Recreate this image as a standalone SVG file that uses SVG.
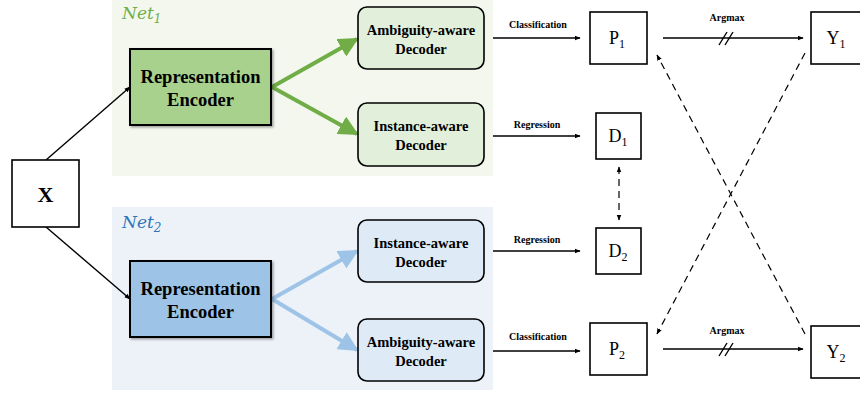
<svg xmlns="http://www.w3.org/2000/svg" width="860" height="394" viewBox="0 0 860 394" font-family="'Liberation Serif', 'Times New Roman', serif">
<style>
.bold{font-family:'Liberation Serif','Times New Roman',serif;font-weight:700;fill:#000}
.reg{font-family:'Liberation Serif','Times New Roman',serif;fill:#000}
.enc{stroke:#000;stroke-width:2}
.dec{stroke:#000;stroke-width:1.6}
.box{fill:#fff;stroke:#000;stroke-width:1.6}
.thin{stroke:#000;stroke-width:1.4;fill:none}
.dash{stroke:#000;stroke-width:1.2;fill:none;stroke-dasharray:7,5}
.lbl{font-family:'Liberation Serif','Times New Roman',serif;font-weight:700;font-size:10px;text-anchor:middle}
.net{font-family:'DejaVu Serif','Liberation Serif',serif;font-style:italic;font-size:17px}
</style>
<defs>
<marker id="ah" viewBox="0 0 10 10" refX="9" refY="5" markerWidth="6" markerHeight="6" orient="auto-start-reverse" markerUnits="userSpaceOnUse"><path d="M0,1 L10,5 L0,9 z" fill="#000"/></marker>
<marker id="ag" viewBox="0 0 10 10" refX="9" refY="5" markerWidth="5" markerHeight="5" orient="auto"><path d="M0,0 L10,5 L0,10 z" fill="#70ad47"/></marker>
<marker id="ab" viewBox="0 0 10 10" refX="9" refY="5" markerWidth="5" markerHeight="5" orient="auto"><path d="M0,0 L10,5 L0,10 z" fill="#9dc3e6"/></marker>
<filter id="sh" x="-10%" y="-10%" width="130%" height="130%"><feDropShadow dx="1.5" dy="1.5" stdDeviation="1" flood-opacity="0.35"/></filter>
</defs>

<g id="net1-bg">
<rect x="112" y="0" width="381" height="176" fill="#f3f7ee"/>
<text class="net" x="122" y="19" fill="#70ad47">Net<tspan font-size="12" dy="4">1</tspan></text>
</g>
<g id="net2-bg">
<rect x="112" y="207" width="381" height="183" fill="#edf2f9"/>
<text class="net" x="122" y="228" fill="#2e75b6">Net<tspan font-size="12" dy="4">2</tspan></text>
</g>

<g id="connectors">
<line class="thin" x1="46" y1="160" x2="130" y2="87" marker-end="url(#ah)"/>
<line class="thin" x1="46" y1="227" x2="130" y2="299" marker-end="url(#ah)"/>
<line x1="272" y1="87" x2="357" y2="39" stroke="#70ad47" stroke-width="4" marker-end="url(#ag)"/>
<line x1="272" y1="87" x2="357" y2="134" stroke="#70ad47" stroke-width="4" marker-end="url(#ag)"/>
<line x1="272" y1="299" x2="357" y2="251" stroke="#9dc3e6" stroke-width="4" marker-end="url(#ab)"/>
<line x1="272" y1="299" x2="357" y2="350" stroke="#9dc3e6" stroke-width="4" marker-end="url(#ab)"/>
<line class="thin" x1="493" y1="38" x2="580" y2="38" marker-end="url(#ah)"/>
<text class="lbl" x="538" y="28">Classification</text>
<line class="thin" x1="493" y1="136" x2="580" y2="136" marker-end="url(#ah)"/>
<text class="lbl" x="537" y="128">Regression</text>
<line class="thin" x1="493" y1="251" x2="580" y2="251" marker-end="url(#ah)"/>
<text class="lbl" x="537" y="243">Regression</text>
<line class="thin" x1="493" y1="351" x2="580" y2="351" marker-end="url(#ah)"/>
<text class="lbl" x="538" y="340">Classification</text>
<line class="thin" x1="663" y1="38" x2="803" y2="38" marker-end="url(#ah)"/>
<text class="lbl" x="727" y="21">Argmax</text>
<path class="thin" d="M719,45 L727,32 M725,45 L733,32"/>
<line class="thin" x1="663" y1="349" x2="803" y2="349" marker-end="url(#ah)"/>
<text class="lbl" x="727" y="334">Argmax</text>
<path class="thin" d="M719,356 L727,343 M725,356 L733,343"/>
<line class="dash" x1="619" y1="167" x2="619" y2="220" marker-start="url(#ah)" marker-end="url(#ah)"/>
<line class="dash" x1="805" y1="53" x2="657" y2="334" marker-end="url(#ah)"/>
<line class="dash" x1="805" y1="334" x2="657" y2="55" marker-end="url(#ah)"/>
</g>

<g id="x">
<rect class="box" x="12" y="160" width="67" height="67"/>
<text class="bold" x="45.5" y="202" font-size="22" text-anchor="middle">X</text>
</g>

<g id="encoder1">
<rect class="enc" x="130" y="49" width="141" height="76" fill="#a9d18e" filter="url(#sh)"/>
<text class="bold" x="200.5" y="83" font-size="18.5" text-anchor="middle">Representation</text>
<text class="bold" x="200.5" y="106" font-size="18.5" text-anchor="middle">Encoder</text>
</g>
<g id="encoder2">
<rect class="enc" x="130" y="261" width="141" height="76" fill="#9dc3e6" filter="url(#sh)"/>
<text class="bold" x="200.5" y="295" font-size="18.5" text-anchor="middle">Representation</text>
<text class="bold" x="200.5" y="318" font-size="18.5" text-anchor="middle">Encoder</text>
</g>

<g id="amb1">
<rect class="dec" x="358" y="7" width="126" height="62" rx="9" fill="#e2efda"/>
<text class="bold" x="421" y="35" font-size="14.5" text-anchor="middle">Ambiguity-aware</text>
<text class="bold" x="421" y="54" font-size="14.5" text-anchor="middle">Decoder</text>
</g>
<g id="inst1">
<rect class="dec" x="358" y="103" width="126" height="63" rx="9" fill="#e2efda"/>
<text class="bold" x="421" y="131" font-size="14.5" text-anchor="middle">Instance-aware</text>
<text class="bold" x="421" y="150" font-size="14.5" text-anchor="middle">Decoder</text>
</g>
<g id="inst2">
<rect class="dec" x="358" y="220" width="126" height="62" rx="9" fill="#deebf7"/>
<text class="bold" x="421" y="248" font-size="14.5" text-anchor="middle">Instance-aware</text>
<text class="bold" x="421" y="267" font-size="14.5" text-anchor="middle">Decoder</text>
</g>
<g id="amb2">
<rect class="dec" x="358" y="319" width="126" height="62" rx="9" fill="#deebf7"/>
<text class="bold" x="421" y="347" font-size="14.5" text-anchor="middle">Ambiguity-aware</text>
<text class="bold" x="421" y="366" font-size="14.5" text-anchor="middle">Decoder</text>
</g>

<g id="p1">
<rect class="box" x="590" y="12" width="57" height="52"/>
<text class="reg" x="617" y="44" font-size="18" text-anchor="middle">P<tspan font-size="12" dy="4">1</tspan></text>
</g>
<g id="d1">
<rect class="box" x="596" y="113" width="45" height="46"/>
<text class="reg" x="618" y="142" font-size="18" text-anchor="middle">D<tspan font-size="12" dy="4">1</tspan></text>
</g>
<g id="y1">
<rect class="box" x="811" y="12" width="52" height="52"/>
<text class="reg" x="836" y="44" font-size="18" text-anchor="middle">Y<tspan font-size="12" dy="4">1</tspan></text>
</g>
<g id="d2">
<rect class="box" x="596" y="228" width="45" height="46"/>
<text class="reg" x="618" y="257" font-size="18" text-anchor="middle">D<tspan font-size="12" dy="4">2</tspan></text>
</g>
<g id="p2">
<rect class="box" x="590" y="323" width="57" height="52"/>
<text class="reg" x="617" y="355" font-size="18" text-anchor="middle">P<tspan font-size="12" dy="4">2</tspan></text>
</g>
<g id="y2">
<rect class="box" x="811" y="326" width="52" height="52"/>
<text class="reg" x="836" y="358" font-size="18" text-anchor="middle">Y<tspan font-size="12" dy="4">2</tspan></text>
</g>
</svg>
